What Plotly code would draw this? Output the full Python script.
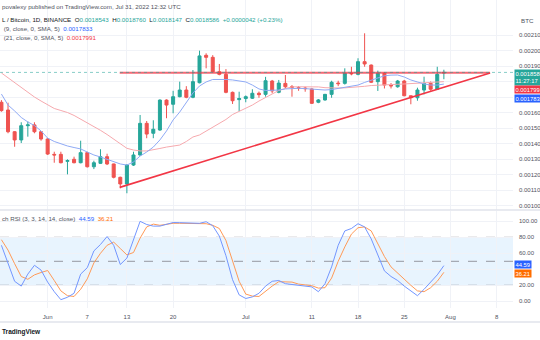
import plotly.graph_objects as go
import pandas as pd

# ---------------- data ----------------
start_date = "2022-05-25"
opens = [0.001666, 0.001616, 0.001476, 0.001423, 0.001515, 0.00152, 0.001476, 0.001429, 0.00133, 0.00133,
         0.001285, 0.001298, 0.001276, 0.001341, 0.00125, 0.001272, 0.001315, 0.001268, 0.001182, 0.001139,
         0.001261, 0.001326, 0.00153, 0.001466, 0.001487, 0.00168, 0.001653, 0.001702, 0.001745, 0.001698,
         0.001792, 0.001969, 0.001956, 0.001863, 0.001846, 0.00173, 0.001683, 0.00169, 0.001692, 0.001724,
         0.001717, 0.001803, 0.00173, 0.001788, 0.001766, 0.00176, 0.001758, 0.001752, 0.001666, 0.001681,
         0.001717, 0.00179, 0.001788, 0.001853, 0.001846, 0.001928, 0.001906, 0.001799, 0.001853, 0.001777,
         0.001766, 0.001803, 0.001708, 0.001695, 0.001745, 0.001788, 0.00175, 0.0018543]
highs = [0.00168, 0.001663, 0.00148, 0.001537, 0.001542, 0.001537, 0.00148, 0.001434, 0.001347, 0.001347,
         0.001298, 0.001315, 0.001418, 0.001347, 0.001289, 0.001363, 0.001334, 0.00127, 0.001186, 0.001265,
         0.001347, 0.001584, 0.001545, 0.00155, 0.001685, 0.001685, 0.00174, 0.001799, 0.00177, 0.001874,
         0.001999, 0.001982, 0.00197, 0.001913, 0.00188, 0.001735, 0.001734, 0.00171, 0.00175, 0.001735,
         0.00183, 0.00181, 0.00181, 0.001842, 0.001777, 0.00177, 0.001766, 0.001756, 0.001687, 0.00172,
         0.001805, 0.001805, 0.001885, 0.001895, 0.00195, 0.002111, 0.00191, 0.00187, 0.00186, 0.00179,
         0.00181, 0.00181, 0.00171, 0.00176, 0.001831, 0.0018, 0.001895, 0.001876]
lows = [0.001605, 0.001466, 0.001379, 0.001403, 0.001444, 0.001466, 0.001418, 0.001326, 0.001276, 0.001272,
        0.001201, 0.001272, 0.001272, 0.001245, 0.001235, 0.001268, 0.001261, 0.001175, 0.001111, 0.001079,
        0.001255, 0.00132, 0.001434, 0.001434, 0.001482, 0.001563, 0.001595, 0.001698, 0.001692, 0.001692,
        0.001788, 0.001885, 0.001857, 0.00184, 0.001724, 0.001655, 0.001609, 0.001666, 0.001687, 0.001695,
        0.001702, 0.001724, 0.001724, 0.001755, 0.001702, 0.00174, 0.001734, 0.001655, 0.00166, 0.001676,
        0.001695, 0.00177, 0.00178, 0.00184, 0.00184, 0.001895, 0.00179, 0.001739, 0.001755, 0.001755,
        0.00176, 0.001705, 0.001653, 0.001676, 0.001717, 0.00174, 0.001745, 0.0018147]
closes = [0.001612, 0.001476, 0.001423, 0.001515, 0.00152, 0.001476, 0.001429, 0.001332, 0.001326, 0.001276,
          0.00129, 0.001276, 0.001341, 0.00125, 0.001276, 0.001315, 0.001268, 0.001182, 0.001139, 0.001261,
          0.001326, 0.00153, 0.001461, 0.001492, 0.00168, 0.001648, 0.001702, 0.001745, 0.001698, 0.001799,
          0.001965, 0.001956, 0.001863, 0.001846, 0.00173, 0.001676, 0.00169, 0.001702, 0.001724, 0.001715,
          0.001805, 0.001739, 0.00179, 0.001766, 0.001763, 0.001756, 0.001754, 0.001659, 0.001681, 0.001717,
          0.001795, 0.001786, 0.001853, 0.00185, 0.001928, 0.001913, 0.001795, 0.001853, 0.001777, 0.001772,
          0.001803, 0.001708, 0.001695, 0.001745, 0.001788, 0.00175, 0.001846, 0.0018586]
ma9 = [0.001719, 0.001648, 0.00161, 0.001568, 0.001539, 0.001516, 0.001481, 0.001435, 0.001413, 0.001397,
       0.001384, 0.001374, 0.001365, 0.001345, 0.001326, 0.001313, 0.001297, 0.001284, 0.001268, 0.001261,
       0.001281, 0.001319, 0.001345, 0.001377, 0.001423, 0.001481, 0.001552, 0.001603, 0.001668, 0.001726,
       0.001771, 0.001797, 0.001813, 0.001814, 0.001813, 0.00181, 0.001803, 0.001797, 0.001777, 0.001752,
       0.001742, 0.001742, 0.001745, 0.001752, 0.001755, 0.001756, 0.001754, 0.00175, 0.001747, 0.001745,
       0.001748, 0.001755, 0.001763, 0.001768, 0.001777, 0.001794, 0.00181, 0.001826, 0.001837, 0.001841,
       0.001842, 0.001829, 0.00181, 0.001797, 0.001784, 0.001777, 0.001777, 0.0017833]
ma21 = [0.001855, 0.001823, 0.00179, 0.001758, 0.001729, 0.0017, 0.001674, 0.001648, 0.001626, 0.001613,
        0.0016, 0.001581, 0.001558, 0.001535, 0.001513, 0.001485, 0.001458, 0.001429, 0.001399, 0.001369,
        0.001358, 0.001352, 0.001352, 0.001358, 0.001368, 0.001377, 0.001384, 0.00139, 0.001413, 0.001442,
        0.001455, 0.001479, 0.001506, 0.00153, 0.001555, 0.001587, 0.001606, 0.001629, 0.001648, 0.001674,
        0.001698, 0.001723, 0.001742, 0.001755, 0.001765, 0.001766, 0.001766, 0.001766, 0.001765, 0.00176,
        0.001758, 0.001758, 0.001759, 0.001761, 0.001765, 0.001769, 0.001774, 0.001777, 0.001779, 0.001781,
        0.001782, 0.001784, 0.001787, 0.00179, 0.001794, 0.001795, 0.001797, 0.0017991]
stoch_k = [70, 48, 25, 19, 34, 45, 39, 24, 12, 2,
           5, 10, 34, 42, 63, 71, 81, 70, 46, 54,
           78, 100, 96, 94, 94, 96.6, 98.5, 98.3, 98, 97.7,
           97.5, 99.5, 94.5, 81.5, 57, 27, 8, 3.5, 5.5, 10,
           19, 25, 26, 22, 21, 20, 19.5, 18, 12, 22,
           43, 70, 88, 91, 97, 93, 78, 57, 38, 31,
           26, 19, 13, 7, 15, 24, 33, 44.59]
stoch_d = [77, 64, 47, 31, 27.5, 33, 36, 38.5, 26, 13,
           7, 6, 15, 28, 48, 60, 70, 74, 66, 58,
           61, 79, 93, 96.5, 95, 96.5, 97.5, 97.5, 97.5, 97.5,
           97.5, 97, 95, 91, 76, 50, 25, 9, 6.5, 6,
           13, 19, 24.5, 24.5, 24, 21.5, 20.8, 19.5, 16.5, 17,
           29, 50, 68, 84, 92, 93, 88, 72, 56, 43,
           35, 28, 20, 13, 12, 17, 25, 36.21]
stoch_levels = [20, 50, 80]

trend_dates = ["2022-06-11 22:00", "2022-08-07 00:00"]
support_prices = [0.001117, 0.001855]
resistance_prices = [0.001857, 0.001857]

price_ticks = [0.0010, 0.0011, 0.0012, 0.0013, 0.0014, 0.0015, 0.0016, 0.0017, 0.0018, 0.0019, 0.0020, 0.0021]
price_hidden = [0.0017, 0.0018]      # labels covered by the value boxes in the reference
rsi_ticks = [0, 20, 40, 60, 80, 100]
rsi_hidden = [40]
time_ticks = ["2022-06-01", "2022-06-07", "2022-06-13", "2022-06-20", "2022-07-01",
              "2022-07-11", "2022-07-18", "2022-07-25", "2022-08-01", "2022-08-08"]
time_labels = ["Jun", "7", "13", "20", "Jul", "11", "18", "25", "Aug", "8"]

dates = pd.date_range(start_date, periods=len(opens), freq="D")

# ---------------- styling ----------------
W, H = 540, 340
PLOT_BOTTOM = 308          # px from top where plot area ends
GREEN = "#26a69a"
RED = "#ef5350"
GRID = "#f0f2f7"
TXT = "#50535e"
FONT = "Liberation Sans, Arial, sans-serif"


def py(ypx):
    return (PLOT_BOTTOM - ypx) / PLOT_BOTTOM


fig = go.Figure()

# price pane
fig.add_trace(go.Scatter(x=dates, y=ma21, mode="lines", line=dict(color="#f6a9ae", width=1),
                         xaxis="x", yaxis="y", hoverinfo="skip"))
fig.add_trace(go.Scatter(x=dates, y=ma9, mode="lines", line=dict(color="#8faaf5", width=1),
                         xaxis="x", yaxis="y", hoverinfo="skip"))
fig.add_trace(go.Candlestick(x=dates, open=opens, high=highs, low=lows, close=closes,
                             increasing=dict(line=dict(color=GREEN, width=1), fillcolor=GREEN),
                             decreasing=dict(line=dict(color=RED, width=1), fillcolor=RED),
                             xaxis="x", yaxis="y", whiskerwidth=0, hoverinfo="skip"))
fig.add_trace(go.Scatter(x=trend_dates, y=resistance_prices, mode="lines",
                         line=dict(color="rgba(242,54,69,0.75)", width=2),
                         xaxis="x", yaxis="y", hoverinfo="skip"))
fig.add_trace(go.Scatter(x=trend_dates, y=support_prices, mode="lines",
                         line=dict(color="#f23645", width=1.6),
                         xaxis="x", yaxis="y", hoverinfo="skip"))

# stoch RSI pane
fig.add_trace(go.Scatter(x=dates, y=stoch_d, mode="lines", line=dict(color="#ff9a57", width=1),
                         xaxis="x2", yaxis="y2", hoverinfo="skip"))
fig.add_trace(go.Scatter(x=dates, y=stoch_k, mode="lines", line=dict(color="#7396ff", width=1),
                         xaxis="x2", yaxis="y2", hoverinfo="skip"))

x_range = ["2022-05-24 18:49", "2022-08-10 11:17"]

shapes = []
shapes.append(dict(type="rect", xref="x2 domain", yref="y2", x0=0, x1=1,
                   y0=stoch_levels[0], y1=stoch_levels[-1],
                   fillcolor="rgba(33,150,243,0.1)", line=dict(width=0), layer="below"))
for lv in stoch_levels:
    shapes.append(dict(type="line", xref="x2 domain", yref="y2", x0=0, x1=1, y0=lv, y1=lv,
                       line=dict(color="#9598a1", width=1, dash="dash"), layer="below"))
shapes.append(dict(type="line", xref="x domain", yref="y", x0=0, x1=1, y0=closes[-1], y1=closes[-1],
                   line=dict(color="rgba(38,166,154,0.55)", width=1, dash="dot")))
shapes.append(dict(type="line", xref="paper", yref="paper", x0=0, x1=W / 513, y0=py(210), y1=py(210),
                   line=dict(color="#e0e3eb", width=1.5)))
shapes.append(dict(type="line", xref="paper", yref="paper", x0=0, x1=W / 513, y0=py(322), y1=py(322),
                   line=dict(color="#e0e3eb", width=1.5)))

ann = []
lbl = dict(xref="paper", yref="paper", showarrow=False, xanchor="left", yanchor="middle",
           font=dict(family=FONT, size=6.2, color=TXT))


def add_text(x, ypx, text, **kw):
    d = dict(lbl)
    d.update(x=x, y=py(ypx), text=text)
    d.update(kw)
    ann.append(d)


add_text(0, 7, "povalexy published on TradingView.com, Jul 31, 2022 12:32 UTC")
g = lambda s: f"<span style='color:{GREEN}'>{s}</span>"
add_text(0, 19.5, "L / Bitcoin, 1D, BINANCE  O" + g(f"{opens[-1]:.7f}") + "  H" + g(f"{highs[-1]:.7f}")
         + "  L" + g(f"{lows[-1]:.7f}") + "  C" + g(f"{closes[-1]:.7f}") + "  "
         + g("+0.0000042 (+0.23%)"), font=dict(family=FONT, size=6.2, color="#131722"))
add_text(0, 29, " (9, close, 0, SMA, 5)  <span style='color:#2962ff'>" + f"{ma9[-1]:.7f}" + "</span>")
add_text(0, 38, " (21, close, 0, SMA, 5)  <span style='color:#f23645'>" + f"{ma21[-1]:.7f}" + "</span>")
add_text(0, 218, "ch RSI (3, 3, 14, 14, close)  <span style='color:#2962ff'>" + f"{stoch_k[-1]:.2f}"
         + "</span>  <span style='color:#ff6d00'>" + f"{stoch_d[-1]:.2f}" + "</span>")
add_text(519 / 513, 20, "BTC")
add_text(0, 332, "<b>TradingView</b>", font=dict(family=FONT, size=6.5, color="#131722"))

# axis value boxes
box = dict(xref="paper", yref="paper", showarrow=False, xanchor="left", yanchor="middle",
           x=1.002, borderpad=0.5, align="left", font=dict(family=FONT, size=5.8, color="white"))
for ypx, txt, col in [(77.3, f"{closes[-1]:.7f}<br>11:27:17", GREEN),
                      (89.7, f"{ma21[-1]:.7f}", "#f23645"),
                      (98.3, f"{ma9[-1]:.7f}", "#2962ff"),
                      (264.3, f"{stoch_k[-1]:.2f}", "#2962ff"),
                      (273.0, f"{stoch_d[-1]:.2f}", "#ff6d00")]:
    d = dict(box)
    d.update(y=py(ypx), text=txt, bgcolor=col)
    ann.append(d)

axis_font = dict(family=FONT, size=6, color=TXT)

fig.update_layout(
    width=W, height=H,
    margin=dict(l=0, r=W - 513, t=0, b=H - PLOT_BOTTOM),
    paper_bgcolor="white", plot_bgcolor="white",
    showlegend=False, hovermode=False, boxgap=0.35,
    font=dict(family=FONT),
    xaxis=dict(domain=[0, 1], anchor="y", range=x_range, type="date", rangeslider=dict(visible=False),
               tickvals=time_ticks, ticktext=time_labels, showticklabels=False,
               showgrid=True, gridcolor=GRID, gridwidth=1, zeroline=False, showline=False, ticks=""),
    xaxis2=dict(domain=[0, 1], anchor="y2", range=x_range, type="date", matches="x",
                tickvals=time_ticks, ticktext=time_labels, showticklabels=True, tickfont=axis_font,
                showgrid=True, gridcolor=GRID, gridwidth=1, zeroline=False, showline=False, ticks="",
                ticklabelstandoff=4),
    yaxis=dict(domain=[py(209.5), 1], anchor="x", side="right", range=[0.0009742, 0.0023258],
               tickvals=price_ticks,
               ticktext=["" if v in price_hidden else f"{v:.5f}" for v in price_ticks],
               tickfont=axis_font,
               showgrid=True, gridcolor=GRID, zeroline=False, showline=False, ticks="",
               ticklabelstandoff=5),
    yaxis2=dict(domain=[0, py(211)], anchor="x2", side="right", range=[-8.4, 112.9],
                tickvals=rsi_ticks,
                ticktext=["" if v in rsi_hidden else f"{v:.2f}" for v in rsi_ticks],
                tickfont=axis_font,
                showgrid=True, gridcolor=GRID, zeroline=False, showline=False, ticks="",
                ticklabelstandoff=5),
    shapes=shapes, annotations=ann,
)

fig.write_html("out.html", config={"displayModeBar": False, "staticPlot": True})
